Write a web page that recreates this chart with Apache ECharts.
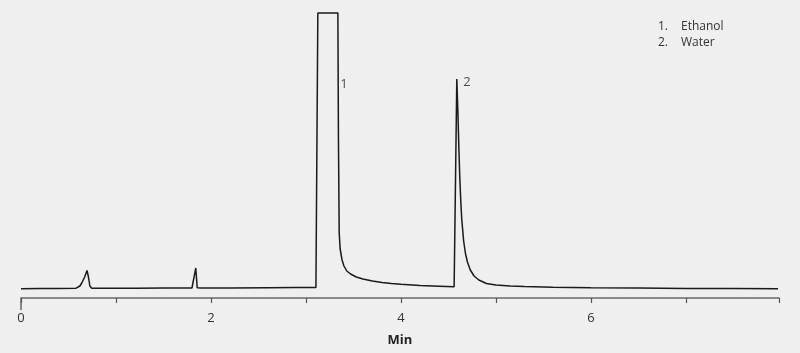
<!DOCTYPE html>
<html>
<head>
<meta charset="utf-8">
<script src="https://cdn.jsdelivr.net/npm/echarts@6/dist/echarts.min.js"></script>
<style>
html,body{margin:0;padding:0;background:#efefef;}
#chart{width:800px;height:353px;}
</style>
</head>
<body>
<div id="chart"></div>
<script>
// retention time (min)
var times = [0.00,0.20,0.40,0.58,0.62,0.64,0.67,0.695,0.71,0.725,0.745,0.90,1.20,1.50,1.80,1.82,1.84,1.855,1.90,2.20,2.60,2.90,3.05,3.105,3.125,3.336,3.342,3.35,3.36,3.38,3.40,3.43,3.47,3.53,3.60,3.70,3.80,3.90,4.00,4.20,4.40,4.56,4.572,4.588,4.60,4.61,4.62,4.63,4.64,4.66,4.68,4.70,4.73,4.77,4.82,4.90,5.00,5.15,5.30,5.60,6.00,6.50,7.00,7.50,7.97];
// detector signal (arbitrary units, peak 1 clipped at full scale)
var signal = [0.3,0.4,0.5,0.8,3,6,12,18.5,12,3,0.8,0.7,0.8,0.9,1.0,1.2,21,1.2,1.0,1.0,1.2,1.4,1.5,1.6,276,276,150,56,40,29,23,18,15,12,10,8,6.5,5.5,4.7,3.5,2.8,2.3,2.5,210,175,140,110,88,70,48,35,27,19,13,9,5.5,4,3,2.5,1.8,1.3,0.9,0.6,0.4,0.2];
var peakLabels = ['1','2'];
var peakLabelPos = [[3.40,205],[4.695,207]];
var legendItems = ['1.', '2.'];
var legendNames = ['Ethanol', 'Water'];
var tickLabels = ['0','2','4','6'];

var data = times.map(function(t,i){return [t, signal[i]];});
var labelData = peakLabelPos.map(function(p,i){return {value:p, name:peakLabels[i]};});

var chart = echarts.init(document.getElementById('chart'), null, {renderer:'canvas'});
var graphics = [];
legendItems.forEach(function(n,i){
  graphics.push({type:'text', left:658, top:21+i*16, style:{text:n, font:'12px "Open Sans", sans-serif', fill:'#333'}});
  graphics.push({type:'text', left:681, top:21+i*16, style:{text:legendNames[i], font:'12px "Open Sans", sans-serif', fill:'#333'}});
});
chart.setOption({
  backgroundColor:'#efefef',
  animation:false,
  grid:{left:21, right:21, top:11, bottom:55},
  graphic:graphics,
  xAxis:{
    type:'value', min:0, max:7.98, interval:1,
    name:'Min', nameLocation:'middle', nameGap:36,
    nameTextStyle:{fontWeight:'bold', fontSize:13, color:'#222', fontFamily:'"Open Sans", sans-serif'},
    axisLine:{onZero:false, lineStyle:{color:'#8a8a8a', width:2}},
    axisTick:{length:5, lineStyle:{color:'#555', width:1.2}},
    axisLabel:{margin:14, fontSize:13, color:'#333', fontFamily:'"Open Sans", sans-serif',
      formatter:function(v){var s=String(Math.round(v)); return tickLabels.indexOf(s)>=0 && Math.abs(v-Math.round(v))<1e-6 ? s : '';}},
    splitLine:{show:false}
  },
  yAxis:{type:'value', min:-9, max:278, show:false, splitLine:{show:false}},
  series:[
    {type:'line', data:data, showSymbol:false, symbol:'none', smooth:false,
     lineStyle:{color:'#1a1a1a', width:1.5}, clip:false},
    {type:'scatter', data:labelData, symbolSize:0,
     label:{show:true, formatter:function(p){return p.name;}, position:'inside',
       fontSize:13, color:'#222', fontFamily:'"Open Sans", sans-serif'}}
  ]
});
// longer tick at the origin
var p0 = chart.convertToPixel({xAxisIndex:0, yAxisIndex:0}, [0, -9]);
chart.setOption({graphic:graphics.concat([{type:'line', shape:{x1:p0[0], y1:p0[1], x2:p0[0], y2:p0[1]+12}, style:{stroke:'#666', lineWidth:1.5}}])});
</script>
</body>
</html>
